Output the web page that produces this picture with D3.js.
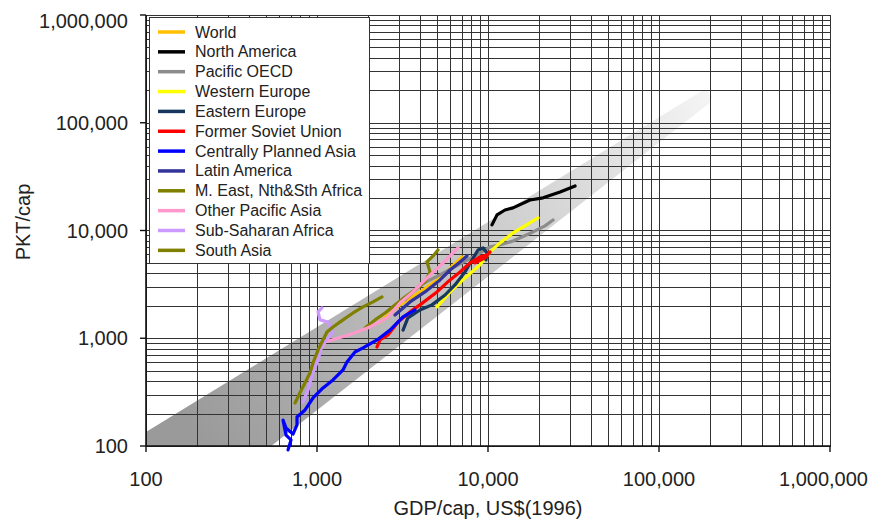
<!DOCTYPE html>
<html>
<head>
<meta charset="utf-8">
<script src="https://cdn.jsdelivr.net/npm/d3@7"></script>
<style>
body { margin: 0; background: #fff; }
svg { display: block; }
text { font-family: Arial, "Liberation Sans", sans-serif; fill: #222; }
</style>
</head>
<body>
<svg id="chart" width="878" height="521"></svg>
<script>
// series: [GDP/cap, PKT/cap]
var world = [[2336,1417],[3055,2040],[4000,2690],[5240,3630],[7050,5690]];
var northAmerica = [[10550,11270],[11290,13960],[12570,15500],[14000,16220],[17600,19200],[21000,20100],[26400,22800],[32300,25900]];
var pacificOecd = [[3270,2270],[4000,3125],[5240,3870],[6860,4900],[8400,5810],[10280,7040],[11750,7350],[14000,8000],[18330,9700],[21550,11030],[24000,12500]];
var westernEurope = [[5030,1953],[6000,2690],[7340,3630],[8980,4800],[10280,6330],[11750,7670],[14000,9500],[16450,11030],[19600,13090]];
var easternEurope = [[3185,1190],[3400,1543],[4000,1830],[4700,2040],[5610,2520],[6410,3125],[7340,4130],[8060,5330],[8740,6590],[9350,6890],[9870,6200],[9730,5330]];
var formerSoviet = [[2244,830],[2336,964],[2600,1073],[2977,1417],[3500,1755],[4000,2040],[5030,2690],[6000,3480],[6860,4130],[7850,5000],[8980,5690],[9870,5930],[10280,6330],[9600,5570],[8400,5000]];
var centralAsia = [[677,92],[705,114],[659,126],[633,174],[659,147],[724,129],[764,157],[764,186],[851,216],[948,279],[1084,346],[1240,410],[1419,508],[1497,603],[1668,746],[1858,813],[2244,964],[2672,1190],[3185,1578],[3745,1830]];
var latinAmerica = [[2858,1645],[3500,2173],[4280,2690],[5240,3480],[6000,4300],[6860,5110],[7540,5810]];
var middleEast = [[1909,1247],[2183,1480],[2500,1717],[2858,2040],[3270,2417],[3745,2810],[4280,3333],[4580,4130],[4400,5110],[4770,5810],[5100,6590]];
var otherPacAsia = [[910,410],[948,530],[1042,776],[1114,924],[1274,986],[1458,1050],[1714,1144],[2042,1273],[2567,1543],[3055,2127],[3641,2690],[4280,3480],[5240,4690],[6000,5810],[6680,6890]];
var subSahara = [[828,256],[886,331],[935,456],[1014,628],[1069,867],[1159,1000],[1240,1144],[1159,1417],[1042,1480],[1014,1755],[1069,1910]];
var southAsia = [[744,251],[794,311],[910,476],[948,590],[1014,776],[1084,964],[1144,1144],[1240,1273],[1419,1480],[1624,1717],[1858,1953],[2125,2173],[2400,2417]];

var names = ['World','North America','Pacific OECD','Western Europe','Eastern Europe','Former Soviet Union','Centrally Planned Asia','Latin America','M. East, Nth&Sth Africa','Other Pacific Asia','Sub-Saharan Africa','South Asia'];
var colors = ['#ffc000','#000000','#8c8c8c','#ffff00','#17375e','#ff0000','#0000ff','#333399','#808000','#ff99cc','#cc99ff','#7f7f00'];
var series = [world, northAmerica, pacificOecd, westernEurope, easternEurope, formerSoviet, centralAsia, latinAmerica, middleEast, otherPacAsia, subSahara, southAsia];

// grey trend band
var band = [[100,100],[100,135],[185000,205000],[205000,175000],[195000,150000],[540,100]];

var decades = [100, 1000, 10000, 100000, 1000000];

var svg = d3.select('#chart');

var x = d3.scaleLog().domain([100, 1000000]).range([146, 830]);
var y = d3.scaleLog().domain([100, 1000000]).range([446, 15]);

var defs = svg.append('defs');
defs.append('clipPath').attr('id', 'plot')
    .append('rect').attr('x', 146).attr('y', 15).attr('width', 684).attr('height', 431);

var grad = defs.append('linearGradient').attr('id', 'bandFill')
    .attr('gradientUnits', 'userSpaceOnUse')
    .attr('x1', 200).attr('y1', 440).attr('x2', 710).attr('y2', 90);
grad.append('stop').attr('offset', 0).attr('stop-color', '#9a9a9a');
grad.append('stop').attr('offset', 0.4).attr('stop-color', '#bdbdbd');
grad.append('stop').attr('offset', 0.75).attr('stop-color', '#dcdcdc');
grad.append('stop').attr('offset', 1).attr('stop-color', '#f5f5f5');

svg.append('path')
    .attr('clip-path', 'url(#plot)')
    .attr('d', d3.line().x(function (d) {return x(d[0])}).y(function (d) {return y(d[1])}).curve(d3.curveLinearClosed)(band))
    .attr('fill', 'url(#bandFill)');

// grid
svg.append('g').selectAll('line')
    .data(x.ticks())
    .enter()
    .append('line')
    .attr('x1', function (d) {return Math.round(x(d)) + 0.5})
    .attr('x2', function (d) {return Math.round(x(d)) + 0.5})
    .attr('y1', 15).attr('y2', 446)
    .attr('stroke', '#333').attr('stroke-width', 1);

svg.append('g').selectAll('line')
    .data(y.ticks())
    .enter()
    .append('line')
    .attr('y1', function (d) {return Math.round(y(d)) + 0.5})
    .attr('y2', function (d) {return Math.round(y(d)) + 0.5})
    .attr('x1', 146).attr('x2', 830)
    .attr('stroke', '#333').attr('stroke-width', 1);

// axes
svg.append('line').attr('x1', 146).attr('x2', 146).attr('y1', 15).attr('y2', 446)
    .attr('stroke', '#111').attr('stroke-width', 1.6);
svg.append('line').attr('x1', 146).attr('x2', 831).attr('y1', 446).attr('y2', 446)
    .attr('stroke', '#111').attr('stroke-width', 1.6);

var fmt = d3.format(',');

svg.append('g').selectAll('line')
    .data(decades)
    .enter()
    .append('line')
    .attr('x1', function (d) {return x(d)}).attr('x2', function (d) {return x(d)})
    .attr('y1', 446).attr('y2', 452)
    .attr('stroke', '#111').attr('stroke-width', 1.4);

svg.append('g').selectAll('line')
    .data(decades)
    .enter()
    .append('line')
    .attr('y1', function (d) {return y(d)}).attr('y2', function (d) {return y(d)})
    .attr('x1', 140).attr('x2', 146)
    .attr('stroke', '#111').attr('stroke-width', 1.4);

svg.append('g').selectAll('text')
    .data(decades)
    .enter()
    .append('text')
    .attr('x', function (d) {return d === 1000000 ? 868 : x(d)})
    .attr('y', 486)
    .attr('text-anchor', function (d) {return d === 1000000 ? 'end' : 'middle'})
    .attr('font-size', 20)
    .text(function (d) {return fmt(d)});

svg.append('g').selectAll('text')
    .data(decades)
    .enter()
    .append('text')
    .attr('x', 128)
    .attr('y', function (d) {return y(d) + (d === 1000000 ? 13 : 7)})
    .attr('text-anchor', 'end')
    .attr('font-size', 20)
    .text(function (d) {return fmt(d)});

svg.append('text')
    .attr('x', 488).attr('y', 515)
    .attr('text-anchor', 'middle')
    .attr('font-size', 20)
    .text('GDP/cap, US$(1996)');

svg.append('text')
    .attr('transform', 'translate(30,222) rotate(-90)')
    .attr('text-anchor', 'middle')
    .attr('font-size', 20)
    .text('PKT/cap');

// series lines
var line = d3.line()
    .x(function (d) {return x(d[0])})
    .y(function (d) {return y(d[1])});

svg.append('g').selectAll('path')
    .data(series)
    .enter()
    .append('path')
    .attr('d', line)
    .attr('fill', 'none')
    .attr('stroke', function (d, i) {return colors[i]})
    .attr('stroke-width', 3.2)
    .attr('stroke-linejoin', 'round')
    .attr('stroke-linecap', 'round');

// legend
var legend = svg.append('g');
legend.append('rect')
    .attr('x', 149.5).attr('y', 17.5).attr('width', 220).attr('height', 246)
    .attr('fill', '#fff').attr('stroke', '#333').attr('stroke-width', 1);

var item = legend.selectAll('g.item')
    .data(names)
    .enter()
    .append('g')
    .attr('class', 'item')
    .attr('transform', function (d, i) {return 'translate(0,' + (32 + i * 19.85) + ')'});

item.append('line')
    .attr('x1', 158).attr('x2', 185)
    .attr('stroke', function (d, i) {return colors[i]})
    .attr('stroke-width', 3.5);

item.append('text')
    .attr('x', 195).attr('y', 5.5)
    .attr('font-size', 16)
    .text(function (d) {return d});
</script>
</body>
</html>
